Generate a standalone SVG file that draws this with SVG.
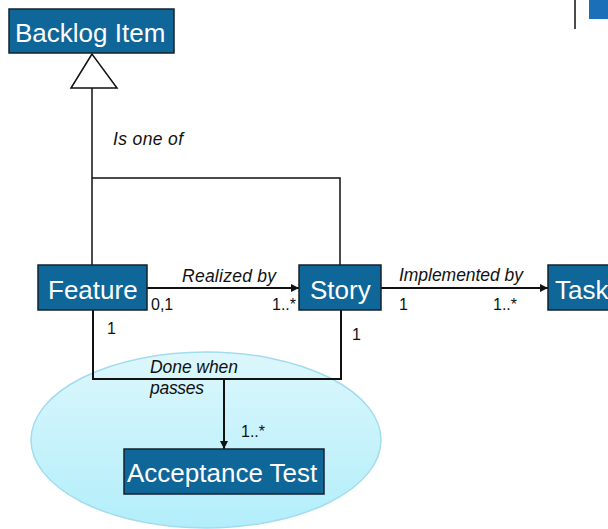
<svg xmlns="http://www.w3.org/2000/svg" width="608" height="529" viewBox="0 0 608 529">
  <style>
    .box { fill: #0f6699; stroke: #14222e; stroke-width: 1.5; }
    .boxtext { font-family: "Liberation Sans", Arial, sans-serif; font-size: 26px; fill: #ffffff; }
    .lbl { font-family: "Liberation Sans", Arial, sans-serif; font-size: 17.5px; font-style: italic; fill: #111111; }
    .num { font-family: "Liberation Sans", Arial, sans-serif; font-size: 16px; fill: #111111; }
    .wire { fill: none; stroke: #111111; stroke-width: 2; }
  </style>
  <defs>
    <linearGradient id="cloud" x1="0" y1="0" x2="0" y2="1">
      <stop offset="0" stop-color="#dcf7fc"/>
      <stop offset="1" stop-color="#b2eefa"/>
    </linearGradient>
    <marker id="arrow" viewBox="0 0 10 10" refX="10" refY="5" markerWidth="9" markerHeight="8" markerUnits="userSpaceOnUse" orient="auto">
      <path d="M0,0 L10,5 L0,10 z" fill="#111111"/>
    </marker>
  </defs>

  <rect width="608" height="529" fill="#ffffff"/>

  <!-- corner decoration -->
  <line x1="575" y1="0" x2="575" y2="29" stroke="#111111" stroke-width="1.5"/>
  <rect x="589" y="0" width="19" height="19" fill="#1a6fb8"/>

  <!-- background shape behind the acceptance test -->
  <ellipse cx="206" cy="440" rx="175" ry="88" fill="url(#cloud)" stroke="#a3dcee" stroke-width="1.5"/>

  <g id="connectors">
    <!-- generalization -->
    <polygon points="92,54 71,88 117,88" fill="#ffffff" stroke="#111111" stroke-width="1.5"/>
    <line x1="92" y1="88" x2="92" y2="265" stroke="#111111" stroke-width="1.5"/>
    <polyline points="92,178 340,178 340,265" fill="none" stroke="#111111" stroke-width="1.5"/>
    <!-- associations -->
    <line class="wire" x1="147" y1="288" x2="299" y2="288" marker-end="url(#arrow)"/>
    <line class="wire" x1="381" y1="288" x2="548" y2="288" marker-end="url(#arrow)"/>
    <polyline class="wire" points="93,310 93,379 341,379 341,310"/>
    <line class="wire" x1="224" y1="379" x2="224" y2="449" marker-end="url(#arrow)"/>
  </g>

  <g id="labels">
    <text class="lbl" x="113" y="145" textLength="70">Is one of</text>
    <text class="lbl" x="182" y="282" textLength="94">Realized by</text>
    <text class="lbl" x="399" y="281" textLength="124">Implemented by</text>
    <text class="lbl" x="150" y="373" textLength="88">Done when</text>
    <text class="lbl" x="150" y="394" textLength="54">passes</text>
    <text class="num" x="151" y="310">0,1</text>
    <text class="num" x="272" y="310">1..*</text>
    <text class="num" x="399" y="310">1</text>
    <text class="num" x="493" y="310">1..*</text>
    <text class="num" x="107" y="334">1</text>
    <text class="num" x="352" y="340">1</text>
    <text class="num" x="241" y="437">1..*</text>
  </g>

  <g id="backlog-item">
    <rect class="box" x="9" y="9" width="165" height="44"/>
    <text class="boxtext" x="15" y="42">Backlog Item</text>
  </g>

  <g id="feature">
    <rect class="box" x="38" y="265" width="109" height="45"/>
    <text class="boxtext" x="48" y="299">Feature</text>
  </g>

  <g id="story">
    <rect class="box" x="299" y="265" width="82" height="45"/>
    <text class="boxtext" x="310" y="299">Story</text>
  </g>

  <g id="task">
    <rect class="box" x="548" y="265" width="70" height="45"/>
    <text class="boxtext" x="555" y="299">Task</text>
  </g>

  <g id="acceptance-test">
    <rect class="box" x="124" y="449" width="200" height="45"/>
    <text class="boxtext" x="127" y="482">Acceptance Test</text>
  </g>
</svg>
